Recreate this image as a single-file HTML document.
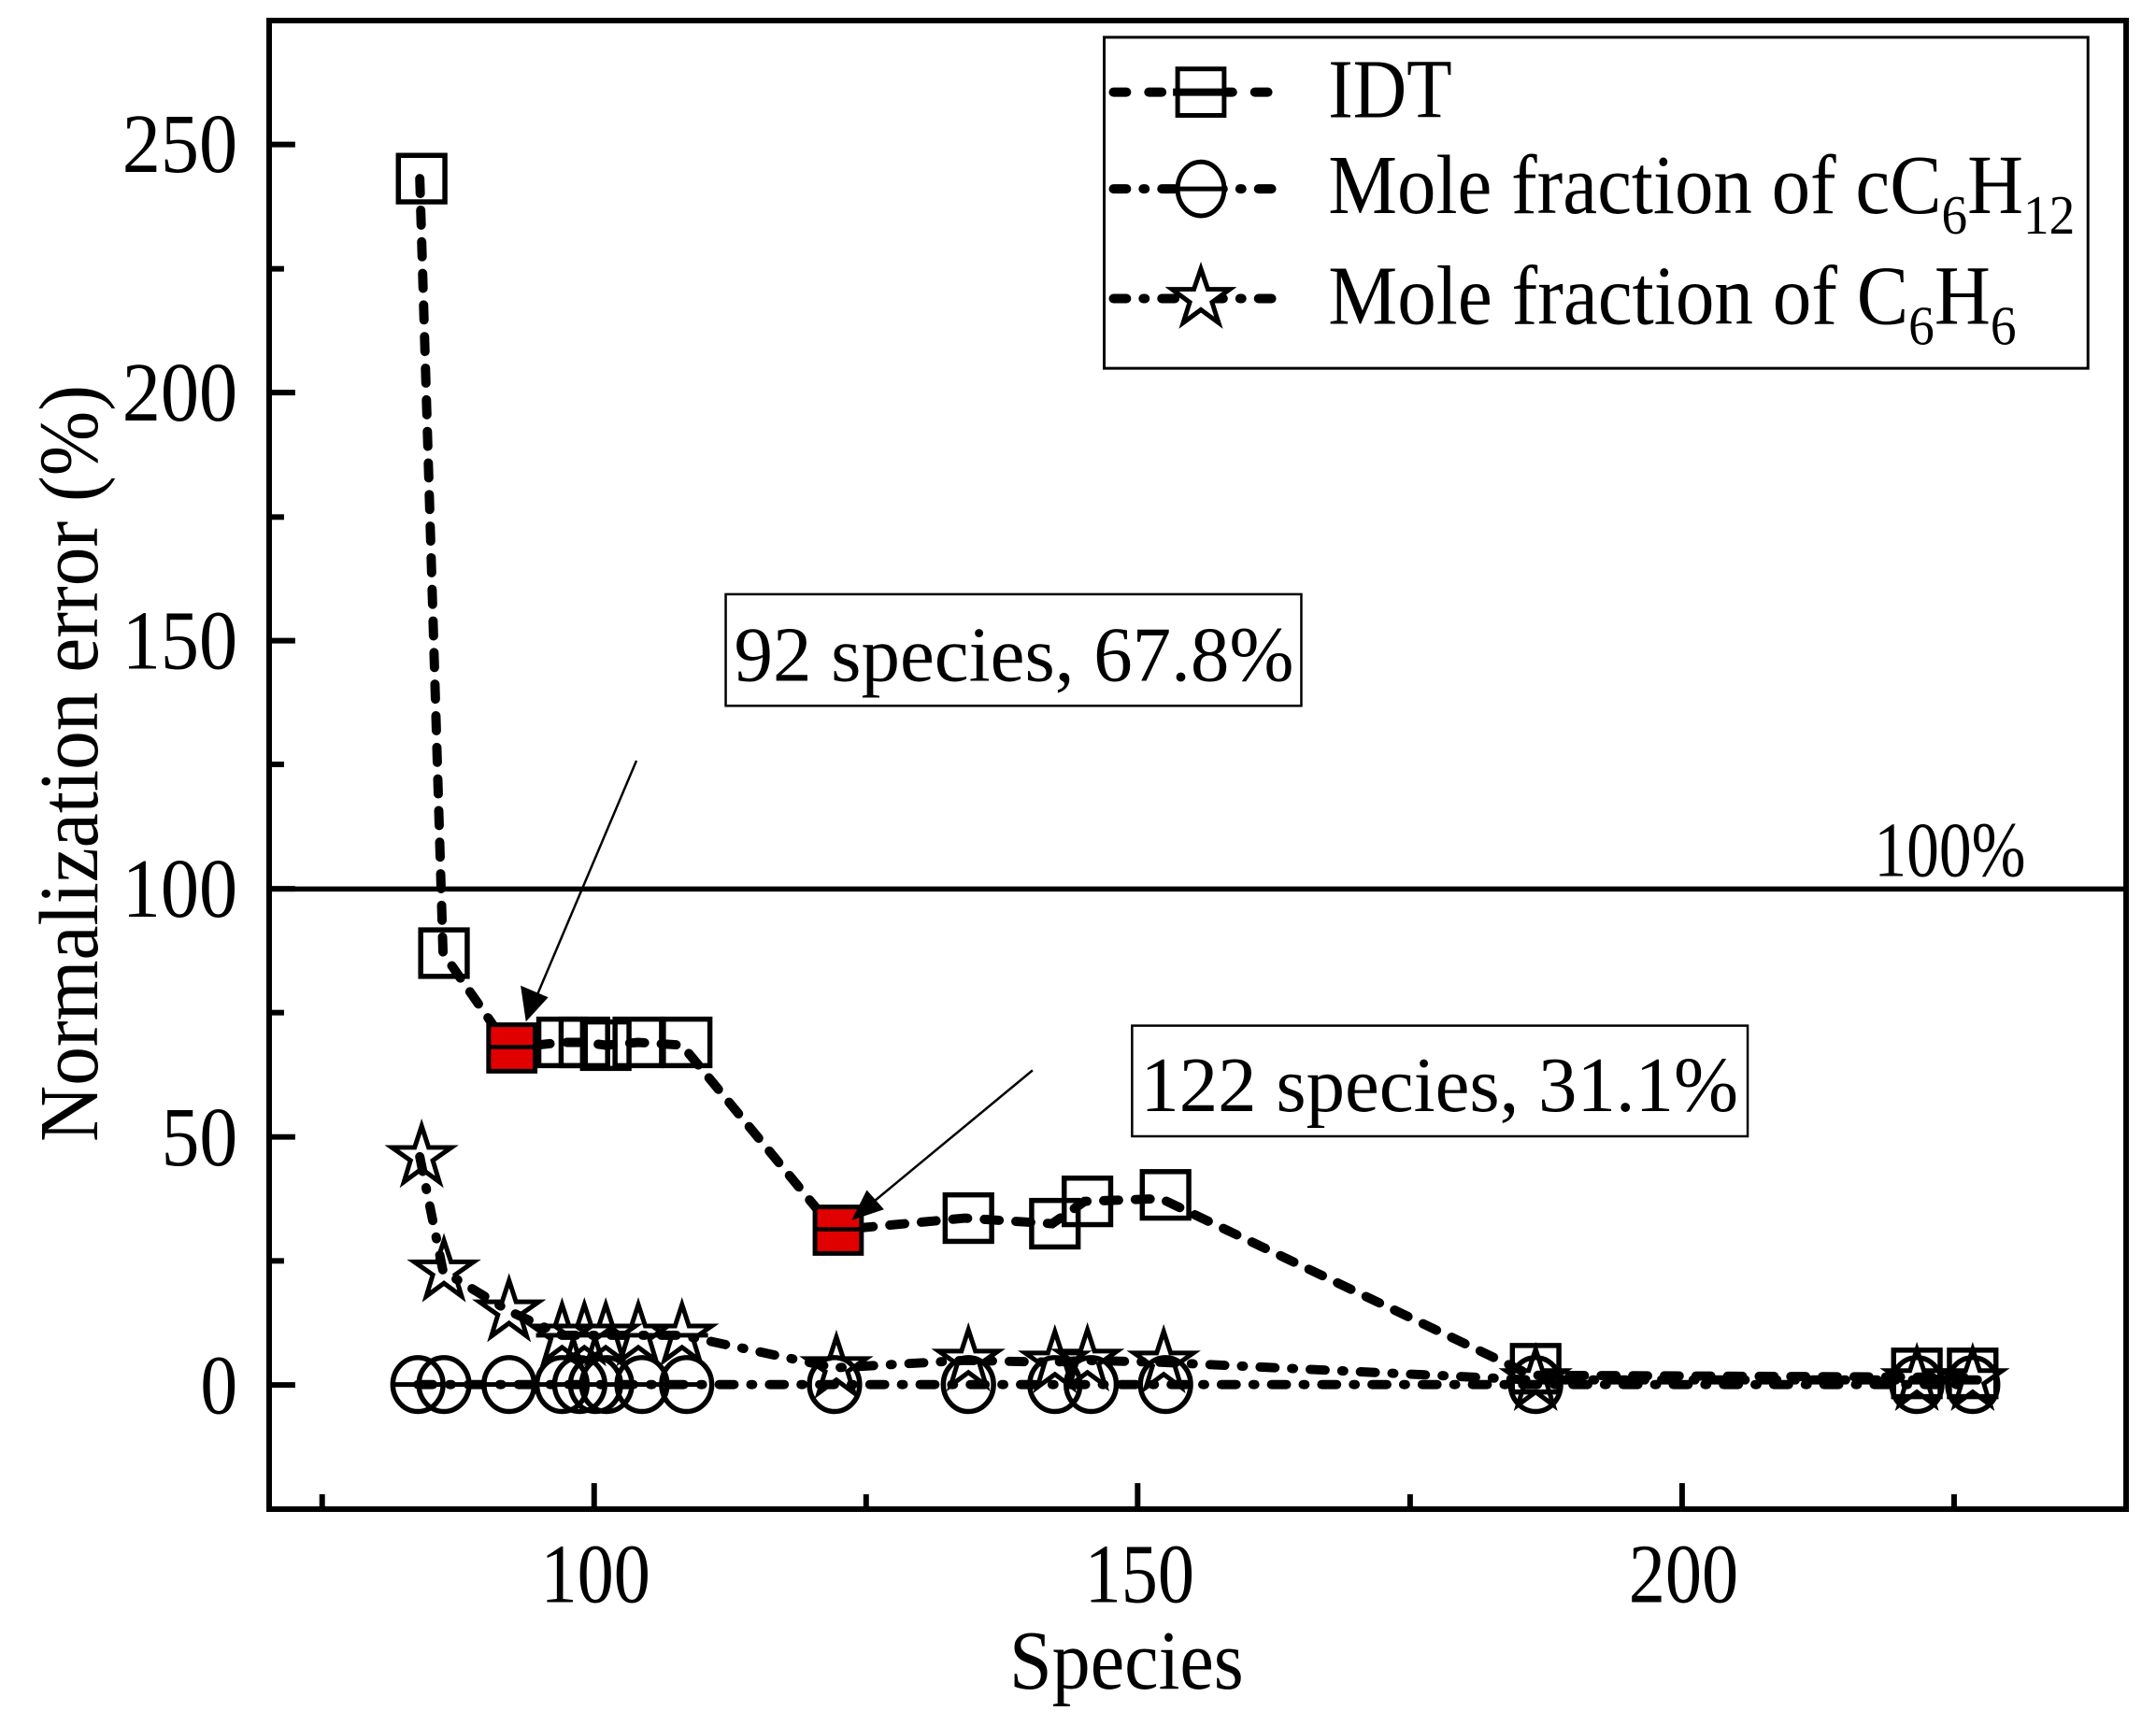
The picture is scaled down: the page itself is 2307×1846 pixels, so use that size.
<!DOCTYPE html>
<html><head><meta charset="utf-8"><style>html,body{margin:0;padding:0;background:#fff}svg{display:block}</style></head>
<body>
<svg width="2307" height="1846" viewBox="0 0 2307 1846" xmlns="http://www.w3.org/2000/svg" font-family="'Liberation Serif', serif">
<defs>
<symbol id="sq" overflow="visible"><rect x="-25" y="-25" width="50" height="50" fill="none" stroke="#000" stroke-width="5.5"/></symbol>
<symbol id="ci" overflow="visible"><ellipse cx="0" cy="0" rx="27" ry="29" fill="none" stroke="#000" stroke-width="5.5"/></symbol>
<symbol id="st" overflow="visible"><polygon points="0,-33 7.5,-10 32,-10 12,4 19,27 0,13 -19,27 -12,4 -32,-10 -7.5,-10" fill="none" stroke="#000" stroke-width="5" stroke-linejoin="miter"/></symbol>
</defs>
<g transform="translate(288,22) scale(0.995,0.995) translate(-288,-22)">
<rect x="288" y="22" width="1997" height="1601" fill="none" stroke="#000" stroke-width="6"/>
<line x1="288" y1="956" x2="2285" y2="956" stroke="#000" stroke-width="5.5"/>
<text x="2177" y="942" font-size="84" text-anchor="end" textLength="163" lengthAdjust="spacingAndGlyphs">100%</text>
<g stroke="#000" stroke-width="6">
<line x1="288" y1="1489.5" x2="316" y2="1489.5"/><line x1="288" y1="1222.7" x2="316" y2="1222.7"/>
<line x1="288" y1="955.8" x2="316" y2="955.8"/><line x1="288" y1="689" x2="316" y2="689"/>
<line x1="288" y1="422.1" x2="316" y2="422.1"/><line x1="288" y1="155.3" x2="316" y2="155.3"/>
<line x1="288" y1="1356" x2="304" y2="1356"/><line x1="288" y1="1089" x2="304" y2="1089"/>
<line x1="288" y1="822" x2="304" y2="822"/><line x1="288" y1="556" x2="304" y2="556"/>
<line x1="288" y1="289" x2="304" y2="289"/>
<line x1="637.5" y1="1623" x2="637.5" y2="1595"/><line x1="1222" y1="1623" x2="1222" y2="1595"/><line x1="1807.5" y1="1623" x2="1807.5" y2="1595"/>
<line x1="345" y1="1623" x2="345" y2="1607"/><line x1="930" y1="1623" x2="930" y2="1607"/><line x1="1515" y1="1623" x2="1515" y2="1607"/><line x1="2100" y1="1623" x2="2100" y2="1607"/>
</g>
<g font-size="90" text-anchor="end">
<text x="254" y="1520" textLength="40" lengthAdjust="spacingAndGlyphs">0</text>
<text x="254" y="1253" textLength="82" lengthAdjust="spacingAndGlyphs">50</text>
<text x="254" y="986" textLength="124" lengthAdjust="spacingAndGlyphs">100</text>
<text x="254" y="719" textLength="124" lengthAdjust="spacingAndGlyphs">150</text>
<text x="254" y="452" textLength="124" lengthAdjust="spacingAndGlyphs">200</text>
<text x="254" y="185" textLength="124" lengthAdjust="spacingAndGlyphs">250</text>
</g>
<g font-size="90" text-anchor="middle">
<text x="639" y="1723" textLength="118" lengthAdjust="spacingAndGlyphs">100</text>
<text x="1224" y="1723" textLength="118" lengthAdjust="spacingAndGlyphs">150</text>
<text x="1809" y="1723" textLength="118" lengthAdjust="spacingAndGlyphs">200</text>
</g>
<text x="1210" y="1816" font-size="90" text-anchor="middle" textLength="252" lengthAdjust="spacingAndGlyphs">Species</text>
<text transform="translate(103,821) rotate(-90)" font-size="90" text-anchor="middle" textLength="814" lengthAdjust="spacingAndGlyphs">Normalization error (%)</text>

<g fill="none" stroke="#000" stroke-width="10" stroke-linecap="round">
<polyline stroke-dasharray="16,18" points="450,192 475,1025 546,1127 603,1121 627,1121 650,1124 685,1121 732,1124 896,1323 1036,1310 1130,1316 1165,1292 1247,1289 1645,1479 2055,1481 2125,1481"/>
<polyline stroke-dasharray="16,18,2,18" points="448,1489 476,1489 546,1489 603,1489 627,1489 648,1489 660,1489 689,1489 737,1489 896,1489 1040,1489 1133,1489 1172,1489 1252,1489 1650,1489 2060,1489 2120,1489"/>
<polyline stroke-dasharray="16,18,2,18" points="450,1244 475,1367 546,1410 603,1436 627,1436 650,1436 685,1436 732,1436 896,1471 1036,1463 1130,1465 1165,1463 1247,1465 1645,1484 2055,1484 2125,1484"/>
</g>
<g>
<use href="#ci" x="448" y="1489"/><use href="#ci" x="476" y="1489"/><use href="#ci" x="546" y="1489"/>
<use href="#ci" x="603" y="1489"/><use href="#ci" x="622" y="1489"/><use href="#ci" x="639" y="1489"/>
<use href="#ci" x="651" y="1489"/><use href="#ci" x="689" y="1489"/><use href="#ci" x="737" y="1489"/>
<use href="#ci" x="896" y="1489"/><use href="#ci" x="1040" y="1489"/><use href="#ci" x="1133" y="1489"/>
<use href="#ci" x="1172" y="1489"/><use href="#ci" x="1252" y="1489"/><use href="#ci" x="1650" y="1489"/>
<use href="#ci" x="2060" y="1489"/><use href="#ci" x="2120" y="1489"/>
<line x1="420" y1="1489" x2="758" y2="1489" stroke="#000" stroke-width="5"/>
</g>
<g>
<use href="#st" x="452" y="1244"/><use href="#st" x="476" y="1367"/><use href="#st" x="546" y="1410"/>
<use href="#st" x="603" y="1436"/><use href="#st" x="627" y="1436"/><use href="#st" x="650" y="1436"/>
<use href="#st" x="685" y="1436"/><use href="#st" x="732" y="1436"/><use href="#st" x="898" y="1471"/>
<use href="#st" x="1040" y="1463"/><use href="#st" x="1133" y="1465"/><use href="#st" x="1168" y="1463"/>
<use href="#st" x="1250" y="1465"/><use href="#st" x="1650" y="1484"/><use href="#st" x="2060" y="1484"/><use href="#st" x="2120" y="1484"/>
<line x1="575" y1="1436" x2="760" y2="1436" stroke="#000" stroke-width="5"/>
</g>
<g>
<use href="#sq" x="452" y="192"/><use href="#sq" x="476" y="1025"/>
<use href="#sq" x="603" y="1121"/><use href="#sq" x="627" y="1121"/><use href="#sq" x="650" y="1124"/>
<use href="#sq" x="685" y="1121"/><use href="#sq" x="737" y="1121"/>
<use href="#sq" x="1040" y="1310"/><use href="#sq" x="1133" y="1316"/><use href="#sq" x="1168" y="1292"/>
<use href="#sq" x="1252" y="1285"/><use href="#sq" x="1650" y="1472"/><use href="#sq" x="2060" y="1477"/><use href="#sq" x="2120" y="1477"/>
<rect x="524" y="1102" width="50" height="50" fill="#e00000" stroke="#000" stroke-width="5"/>
<rect x="875" y="1298" width="50" height="50" fill="#e00000" stroke="#000" stroke-width="5"/>
<line x1="524" y1="1126" x2="574" y2="1126" stroke="#000" stroke-width="4.5"/>
<line x1="875" y1="1322" x2="925" y2="1322" stroke="#000" stroke-width="4.5"/>
</g>

<rect x="779" y="639" width="619" height="120" fill="#fff" stroke="#000" stroke-width="2.5"/>
<text x="788" y="732" font-size="84" textLength="602" lengthAdjust="spacingAndGlyphs">92 species, 67.8%</text>
<rect x="1216" y="1103" width="662" height="119" fill="#fff" stroke="#000" stroke-width="2.5"/>
<text x="1225" y="1195" font-size="84" textLength="643" lengthAdjust="spacingAndGlyphs">122 species, 31.1%</text>
<g stroke="#000" stroke-width="2.5">
<line x1="683" y1="818" x2="572" y2="1080"/>
<polygon points="565,1096 560,1062 586,1073" fill="#000"/>
<line x1="1109" y1="1151" x2="930" y2="1299"/>
<polygon points="917,1310 931,1282 947,1300" fill="#000"/>
</g>

<rect x="1186" y="40" width="1058" height="356" fill="#fff" stroke="#000" stroke-width="3"/>
<g stroke="#000" stroke-width="10" stroke-linecap="round">
<line x1="1196" y1="99" x2="1380" y2="99" stroke-dasharray="14,24"/>
<line x1="1196" y1="203" x2="1380" y2="203" stroke-dasharray="14,18,2,18"/>
<line x1="1196" y1="321" x2="1380" y2="321" stroke-dasharray="14,18,2,18"/>
</g>
<rect x="1265" y="74" width="50" height="50" fill="#fff" stroke="#000" stroke-width="5"/>
<line x1="1260" y1="99" x2="1320" y2="99" stroke="#000" stroke-width="8"/>
<ellipse cx="1290" cy="203" rx="25" ry="29" fill="#fff" stroke="#000" stroke-width="5"/>
<line x1="1266" y1="203" x2="1314" y2="203" stroke="#000" stroke-width="5"/>
<polygon points="1290,289 1297.5,311 1321,311 1302,325 1309,347 1290,333 1271,347 1278,325 1259,311 1282.5,311" fill="#fff" stroke="#000" stroke-width="5"/>
<g font-size="90">
<text x="1427" y="126" textLength="133" lengthAdjust="spacingAndGlyphs">IDT</text>
<text x="1427" y="229" textLength="803" lengthAdjust="spacingAndGlyphs">Mole fraction of cC<tspan font-size="60" dy="22">6</tspan><tspan dy="-22">H</tspan><tspan font-size="60" dy="22">12</tspan></text>
<text x="1427" y="348" textLength="740" lengthAdjust="spacingAndGlyphs">Mole fraction of C<tspan font-size="60" dy="22">6</tspan><tspan dy="-22">H</tspan><tspan font-size="60" dy="22">6</tspan></text>
</g>
</g>
</svg>
</body></html>
